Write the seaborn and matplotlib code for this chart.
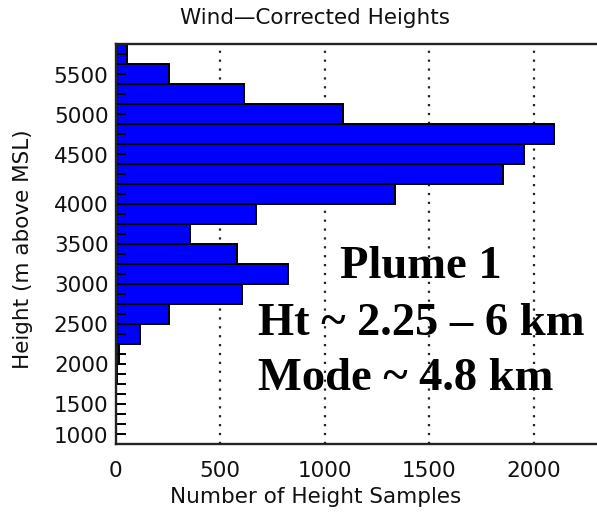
import numpy as np
import matplotlib
matplotlib.use("Agg")
import matplotlib.pyplot as plt
import matplotlib.transforms as mtransforms
import seaborn as sns

# ---- data ----
bin_low = [1750, 2000, 2250, 2500, 2750, 3000, 3250, 3500, 3750, 4000,
           4250, 4500, 4750, 5000, 5250, 5500, 5750]
counts = [5, 18, 117, 256, 605, 825, 579, 356, 671, 1334,
          1850, 1952, 2097, 1087, 616, 256, 53]
bin_width = 250
y_ticks = [1000, 1500, 2000, 2500, 3000, 3500, 4000, 4500, 5000, 5500]
x_ticks = [0, 500, 1000, 1500, 2000]
title = "Wind\u2014Corrected Heights"
xlabel = "Number of Height Samples"
ylabel = "Height (m above MSL)"
notes = ["Plume 1", "Ht ~ 2.25 \u2013 6 km", "Mode ~ 4.8 km"]

sns.set_theme(style="white")
plt.rcParams["font.family"] = ["DejaVu Sans"]

W, H = 597, 517
fig = plt.figure(figsize=(W / 100, H / 100), dpi=100)
ax_left, ax_right, ax_top, ax_bot = 115.5, 638.8, 44, 444
ax = fig.add_axes([ax_left / W, 1 - ax_bot / H, (ax_right - ax_left) / W, (ax_bot - ax_top) / H])

centers = [b + bin_width / 2 for b in bin_low]
edges = [bin_low[0] + i * bin_width for i in range(len(bin_low) + 1)]
sns.histplot(y=centers, weights=counts, bins=edges, ax=ax, color="#0000FF",
             edgecolor="black", linewidth=1.4, alpha=1, zorder=2)
ax.set_axisbelow(False)

# dotted grid lines behind bars
for xv in x_ticks[1:]:
    ax.axvline(xv, color="#222222", linestyle=(0, (1, 3)), linewidth=1.6, zorder=0.5)

ax.set_xlim(0, 2500)
ax.set_ylim(1000, 6000)
ax.set_xticks(x_ticks)
ax.set_yticks(y_ticks)
ax.set_yticks(np.arange(1000, 6001, 125), minor=True)
ax.set_xlabel("")
ax.set_ylabel("")
ax.tick_params(axis="x", length=0, pad=12, labelsize=15.5, colors="#111111")
ax.tick_params(axis="y", which="both", direction="in", length=7.5, width=1.4,
               color="black", left=True, pad=5, labelsize=15.5, labelcolor="#111111")
for s in ["left", "bottom", "top", "right"]:
    ax.spines[s].set_visible(True)
    ax.spines[s].set_color("#222222")
    ax.spines[s].set_linewidth(1.7)
    ax.spines[s].set_zorder(3)

# shift lowest y label up a little as in the reference
for t in ax.yaxis.get_major_ticks():
    if t.get_loc() == 1000:
        t.label1.set_transform(t.label1.get_transform() +
                               mtransforms.ScaledTranslation(0, 9 / 100, fig.dpi_scale_trans))

def fx(x):
    return x / W

def fy(y):
    return 1 - y / H

fig.text(fx(315), fy(18), title, ha="center", va="center", fontsize=15.5, color="#111111")
fig.text(fx(316), fy(497), xlabel, ha="center", va="center", fontsize=15.5, color="#111111")
fig.text(fx(23), fy(249), ylabel, ha="center", va="center", rotation=90, fontsize=15.5, color="#111111")

serif = dict(family=["Liberation Serif", "DejaVu Serif"], fontweight="bold", fontsize=33.5, color="black")
fig.text(fx(421), fy(267), notes[0], ha="center", va="center", **serif)
fig.text(fx(258), fy(324), notes[1], ha="left", va="center", **serif)
fig.text(fx(258), fy(379), notes[2], ha="left", va="center", **serif)

fig.savefig("out.png", dpi=100)
